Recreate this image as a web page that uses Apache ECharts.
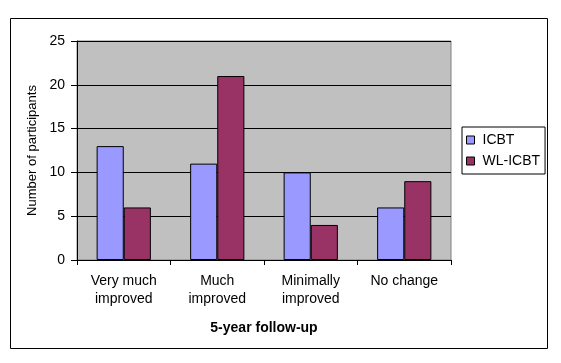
<!DOCTYPE html>
<html><head><meta charset="utf-8">
<script src="https://cdn.jsdelivr.net/npm/echarts@6/dist/echarts.min.js"></script>
<style>html,body{margin:0;padding:0;background:#fff}#c{width:561px;height:363px}</style>
</head><body><div id="c"></div>
<script>
var categories = ['Very much\nimproved', 'Much\nimproved', 'Minimally\nimproved', 'No change'];
var icbt = [13, 11, 10, 6];
var wlicbt = [6, 21, 4, 9];
var yTicks = {min: 0, max: 25, interval: 5};
var FONT = '"Liberation Sans", Arial, sans-serif';
var chart = echarts.init(document.getElementById('c'));
chart.setOption({
  animation: false,
  textStyle: {fontFamily: FONT, color: '#000'},
  graphic: [{type: 'rect', shape: {x: 10.5, y: 18.5, width: 537, height: 330}, style: {fill: 'none', stroke: '#000', lineWidth: 1}, z: -10}],
  grid: {left: 77, top: 41, width: 374, height: 219, show: true, backgroundColor: '#C0C0C0', borderColor: '#808080', borderWidth: 1},
  legend: {
    orient: 'vertical', left: 462, top: 127, itemWidth: 8, itemHeight: 8, itemGap: 7,
    padding: [6, 5, 6, 4], borderColor: '#000', borderWidth: 1, icon: 'rect',
    textStyle: {fontFamily: FONT, fontSize: 14, color: '#000', padding: [0, 0, 0, 3]},
    data: [{name: 'ICBT', itemStyle: {borderColor: '#000', borderWidth: 1}}, {name: 'WL-ICBT', itemStyle: {borderColor: '#000', borderWidth: 1}}]
  },
  xAxis: {
    type: 'category', data: categories,
    name: '5-year follow-up', nameLocation: 'middle', nameGap: 61,
    nameTextStyle: {fontFamily: FONT, fontSize: 14, fontWeight: 'bold', color: '#000'},
    axisLine: {lineStyle: {color: '#000'}},
    axisTick: {show: true, length: 5, lineStyle: {color: '#000'}},
    axisLabel: {fontFamily: FONT, fontSize: 14, color: '#000', lineHeight: 18, margin: 12, interval: 0}
  },
  yAxis: {
    type: 'value', min: yTicks.min, max: yTicks.max, interval: yTicks.interval,
    name: 'Number of participants', nameLocation: 'middle', nameGap: 27, nameRotate: 90,
    nameTextStyle: {fontFamily: FONT, fontSize: 13, color: '#000'},
    axisLine: {show: true, lineStyle: {color: '#000'}},
    axisTick: {show: true, length: 6, lineStyle: {color: '#000'}},
    axisLabel: {fontFamily: FONT, fontSize: 14, color: '#000', margin: 12},
    splitLine: {lineStyle: {color: '#000', width: 1}}
  },
  series: [
    {name: 'ICBT', type: 'bar', data: icbt, barGap: '0%', barCategoryGap: '42%', itemStyle: {color: '#9999FF', borderColor: '#000', borderWidth: 1}},
    {name: 'WL-ICBT', type: 'bar', data: wlicbt, barGap: '0%', barCategoryGap: '42%', itemStyle: {color: '#993366', borderColor: '#000', borderWidth: 1}}
  ]
});
</script></body></html>
